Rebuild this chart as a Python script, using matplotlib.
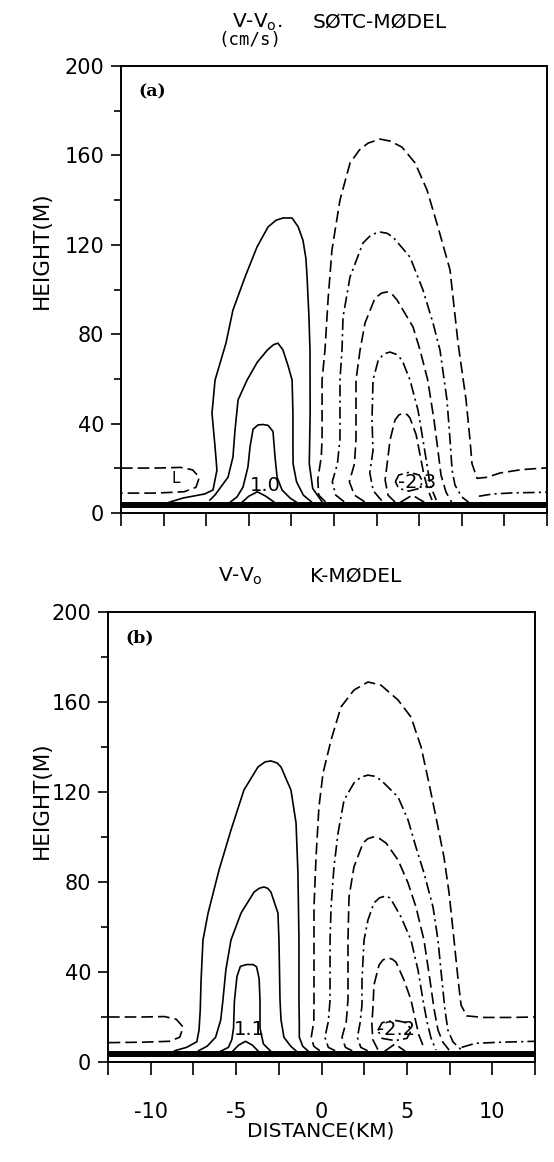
import numpy as np
import matplotlib
matplotlib.use('Agg')
import matplotlib.pyplot as plt
from matplotlib.ticker import FixedLocator

plt.rcParams['font.family'] = ['DejaVu Sans']
plt.rcParams['mathtext.default'] = 'regular'

# ---- panel (a): SOTC model, contours of V - Vo (x in km, z in m) ----
a_pos_outer_x = [-9.8, -8.86, -7.6, -7.1, -6.87, -6.98, -7.16, -6.98, -6.34, -5.93, -5.22, -4.52,
                 -3.87, -3.4, -2.99, -2.46, -2.1, -1.82, -1.65, -1.58, -1.47, -1.41, -1.40,
                 -1.45, -1.25, -0.7]
a_pos_outer_z = [4.5, 6.7, 8.5, 10.3, 19.2, 29.5, 44.7, 59.5, 76, 90.8, 105.6, 119,
                 128, 131, 132, 132, 128, 122, 114, 105.6, 87.7, 72.9, 45,
                 22, 11, 5]
a_pos_mid_x = [-7.28, -6.98, -6.22, -5.93, -5.81, -5.63, -5.1, -4.5, -3.9, -3.55, -3.29, -3.0,
               -2.7, -2.46, -2.41, -2.41, -2.4, -2.2, -1.8, -1.3]
a_pos_mid_z = [5.8, 8.1, 16, 25, 37, 50.6, 59.5, 67.5, 73, 75.3, 76, 73,
               66, 59.5, 44.7, 29.5, 22, 14, 8, 4.8]
a_pos_in_x = [-6.1, -5.69, -5.34, -5.05, -4.93, -4.75, -4.46, -4.17, -3.87, -3.58, -3.46, -3.34,
              -3.05, -2.58, -2.2]
a_pos_in_z = [4.8, 7.2, 11.6, 20.6, 29.5, 37.5, 39.4, 39.6, 39.2, 36.5, 25, 16,
              10.3, 6.7, 4.8]
a_pos_low_x = [-5.4, -5.0, -4.5, -4.0, -3.5]
a_pos_low_z = [4.8, 7.5, 9.5, 7.5, 4.8]

a_neg1_x = [-0.5, -0.9, -0.95, -0.75, -0.7, -0.7, -0.53, -0.35, -0.12, 0.35, 0.94, 1.5, 2.0, 2.7,
            3.3, 3.99, 4.76, 5.46, 6.10, 6.81, 7.28, 7.75, 7.98, 8.1, 8.4, 9.0, 9.74, 11.0, 12.5]
a_neg1_z = [5, 8, 15, 25, 32.7, 59.5, 72.9, 95.3, 117.7, 140, 156.6, 162.5, 165.5, 167.3,
            166.4, 163.7, 156.6, 144.5, 128, 108.7, 76, 50.6, 32.7, 22, 15.5, 16, 17.9, 19.4, 20.2]
a_neg2_x = [0.6, 0.1, -0.1, 0.2, 0.35, 0.35, 0.47, 0.53, 0.94, 1.70, 2.2, 2.70, 3.1, 3.46, 4.46,
            5.22, 5.81, 6.22, 6.63, 6.81, 6.93, 7.1, 7.5, 7.9]
a_neg2_z = [5, 8, 14, 22, 33, 59.5, 72.9, 87.7, 105.6, 120.8, 124.6, 125.7, 125.2, 123.5, 114.5,
            99.8, 85, 72.9, 50.6, 32.7, 19.2, 12.5, 7.2, 4.8]
a_neg3_x = [1.8, 1.2, 0.9, 1.2, 1.29, 1.29, 1.53, 1.82, 2.41, 2.8, 3.11, 3.4, 3.70, 4.64, 5.05,
            5.5, 5.87, 6.1, 6.28, 6.57, 6.9]
a_neg3_z = [5, 8, 14, 22, 33, 59.5, 72.9, 85, 96.2, 98.4, 98.9, 98.0, 95.3, 83.2, 72.9,
            59.5, 41.6, 28, 17, 9.4, 4.9]
a_neg4_x = [2.8, 2.3, 2.1, 2.29, 2.23, 2.29, 2.6, 2.95, 3.29, 3.65, 3.99, 4.46, 4.93, 5.22,
            5.46, 5.64, 6.0]
a_neg4_z = [5.5, 10, 18, 28, 41.6, 59.5, 68.5, 71.3, 72, 71.0, 68.5, 59.5, 46, 32.7,
            21.5, 12.5, 5.8]
a_neg5_x = [3.58, 3.17, 3.0, 3.11, 3.29, 3.58, 3.8, 4.05, 4.3, 4.46, 4.82, 5.05, 5.28, 5.52, 5.75]
a_neg5_z = [4.9, 8, 14.8, 21.5, 32.7, 41.6, 43.8, 44.7, 44.0, 42.5, 35, 26, 17, 10.3, 5.8]
a_neg6_x = [3.6, 3.8, 4.4, 5.0, 5.2, 5.0, 4.4, 3.8, 3.6]
a_neg6_z = [14, 17, 18.2, 17, 14, 11, 9.8, 11, 14]
a_neg_low_x = [3.9, 4.6, 5.3]
a_neg_low_z = [4.8, 8.0, 4.8]
a_left_x = [-12.5, -10.5, -9.0, -8.3, -7.9, -8.1, -8.8, -10.5, -12.5]
a_left_z = [20.1, 20.1, 20.4, 19.3, 16, 11.5, 9.5, 8.9, 8.9]
a_right_x = [8.5, 9.3, 10.5, 11.9, 12.5]
a_right_z = [7.5, 8.5, 9.0, 9.2, 9.3]

# ---- panel (b): K model ----
b_pos_outer_x = [-8.6, -7.9, -7.3, -7.17, -7.1, -7.05, -6.94, -6.64, -6.0, -5.30, -4.54, -3.72,
                 -3.3, -2.96, -2.6, -2.37, -1.79, -1.49, -1.38, -1.32, -1.32, -1.3, -1.3, -1.1, -0.8]
b_pos_outer_z = [5, 6.5, 9, 14.2, 23, 36.4, 54.2, 66.2, 85.3, 103.1, 120.9, 131.1,
                 133.4, 133.8, 132.9, 131.1, 120.9, 106.2, 84, 54.2, 27.6, 18, 11, 7, 5]
b_pos_mid_x = [-7.2, -6.7, -6.2, -5.9, -5.77, -5.6, -5.30, -4.71, -3.95, -3.65, -3.37, -3.15,
               -2.96, -2.55, -2.49, -2.43, -2.37, -2.2, -1.8, -1.5]
b_pos_mid_z = [5, 7, 11, 18.7, 27.6, 40.9, 54.2, 66.2, 75.5, 77.2, 77.8, 77.2,
               75.5, 66.2, 54.2, 27.6, 18.7, 11, 7, 5]
b_pos_in_x = [-5.9, -5.45, -5.25, -5.15, -5.1, -4.95, -4.75, -4.4, -4.0, -3.8, -3.65, -3.6,
              -3.6, -3.4, -3.0]
b_pos_in_z = [4.8, 6.5, 10, 15, 27, 38, 42.5, 43.3, 43.3, 42.3, 37, 27,
              15, 8, 5]
b_pos_low_x = [-5.2, -4.85, -4.45, -4.05, -3.7]
b_pos_low_z = [4.8, 7.5, 9.2, 7.5, 4.8]

b_neg1_x = [-0.1, -0.45, -0.6, -0.45, -0.44, -0.44, -0.44, -0.32, -0.15, 0.09, 0.56, 1.14, 1.90,
            2.72, 3.48, 4.48, 5.24, 5.83, 6.29, 6.70, 7.17, 7.47, 7.76, 8.0, 8.17, 8.5, 9.5, 11.0,
            12.5]
b_neg1_z = [5, 7, 11, 18, 27.6, 54.2, 68.9, 91.1, 113.3, 128.4, 143.1, 157.8, 165.3,
            168.9, 167.5, 160.9, 153.3, 140, 124, 108.9, 91.1, 75.1, 54.2, 36.4, 25.3, 20.5, 19.8,
            19.8, 20]
b_neg2_x = [0.8, 0.4, 0.2, 0.4, 0.5, 0.50, 0.56, 0.73, 0.97, 1.32, 1.90, 2.3, 2.72, 3.1, 3.48,
            4.48, 5.07, 5.53, 6.0, 6.53, 6.82, 7.05, 7.23, 7.4, 7.7, 8.2]
b_neg2_z = [5, 6.5, 11, 18, 27.6, 54.2, 68.9, 86.7, 101.8, 116.4, 124, 126.6, 127.5, 127.0, 125.3,
            117.8, 107.5, 95.5, 84, 68.9, 54.2, 36.4, 23.1, 14.2, 8.9, 5.3]
b_neg3_x = [1.8, 1.4, 1.2, 1.45, 1.55, 1.55, 1.61, 1.90, 2.43, 2.7, 3.02, 3.4, 3.78, 4.48, 5.07,
            5.53, 6.0, 6.35, 6.6, 6.82, 7.1, 7.47]
b_neg3_z = [5, 6.5, 11, 18, 27.6, 54.2, 73.3, 86.7, 97.3, 99.2, 100, 99.3, 97.3, 89.8, 79.5,
            68.9, 54.2, 36.4, 23.1, 14.2, 8.9, 5.3]
b_neg4_x = [2.7, 2.3, 2.1, 2.25, 2.37, 2.37, 2.49, 2.72, 3.07, 3.4, 3.78, 4.0, 4.19, 4.66, 5.24,
            5.65, 5.94, 6.18, 6.41, 6.7]
b_neg4_z = [5, 6.5, 11, 17, 25.3, 36.4, 54.2, 63.1, 70.7, 73.0, 73.8, 72.9, 70.7, 64.4, 54.2,
            40.9, 27.6, 17.8, 10.7, 5.3]
b_neg5_x = [3.3, 3.0, 2.95, 3.02, 3.07, 3.37, 3.6, 3.89, 4.15, 4.36, 4.83, 5.24, 5.47, 5.7, 6.0]
b_neg5_z = [5.5, 10, 17, 25.3, 34.2, 43.1, 45.4, 46.2, 45.7, 44.4, 36.4, 27.6, 19.6, 12, 6.2]
b_neg6_x = [3.3, 3.55, 4.3, 5.0, 5.25, 5.0, 4.3, 3.55, 3.3]
b_neg6_z = [14, 17.5, 18.5, 17.5, 14, 10.5, 9.5, 10.5, 14]
b_neg_low_x = [3.7, 4.3, 4.9]
b_neg_low_z = [4.8, 8.0, 4.8]
b_left_x = [-12.5, -10.5, -9.2, -8.5, -8.1, -8.3, -8.9, -10.5, -12.5]
b_left_z = [20, 20, 20.2, 19, 15.5, 11, 9.2, 8.8, 8.6]
b_right_x = [8.2, 9.0, 10.5, 12.5]
b_right_z = [6.5, 8.3, 8.8, 9.2]

x_ticks = np.arange(-12.5, 12.6, 2.5)
x_labels = ['', '-10', '', '-5', '', '0', '', '5', '', '10', '']
y_major = [0, 40, 80, 120, 160, 200]
y_minor = [20, 60, 100, 140, 180]

LONG = (0, (7, 3))
DASHDOT = (0, (7, 2.5, 1.3, 2.5))

fig = plt.figure(figsize=(5.54, 11.62), dpi=100)


def draw_panel(ax, solid, dashed, dotdash, labels, tag, show_x):
    for xs, zs in solid:
        ax.plot(xs, zs, color='black', lw=1.2, solid_joinstyle='round')
    for xs, zs in dashed:
        ax.plot(xs, zs, color='black', lw=1.2, linestyle=LONG)
    for xs, zs in dotdash:
        ax.plot(xs, zs, color='black', lw=1.2, linestyle=DASHDOT)
    # dense contours squeezed against the ground
    ax.fill_between([-12.5, 12.5], 2.2, 4.8, color='black', lw=0)
    for x, z, s, fs in labels:
        ax.text(x, z, s, fontsize=fs, ha='center', va='center')
    ax.text(0.04, 0.943, tag, transform=ax.transAxes, fontsize=12.5,
            fontweight='bold', family='DejaVu Serif', ha='left', va='center')

    ax.set_xlim(-12.5, 12.5)
    ax.set_ylim(0, 200)
    ax.xaxis.set_major_locator(FixedLocator(x_ticks))
    ax.yaxis.set_major_locator(FixedLocator(y_major))
    ax.yaxis.set_minor_locator(FixedLocator(y_minor))
    ax.set_yticklabels([str(v) for v in y_major])
    if show_x:
        ax.set_xticklabels(x_labels)
    else:
        ax.set_xticklabels([])
    ax.tick_params(axis='x', direction='out', length=9, width=1.2, labelsize=15, pad=20)
    ax.tick_params(axis='y', which='major', direction='out', length=7, width=1.2,
                   labelsize=15, pad=5)
    ax.tick_params(axis='y', which='minor', direction='out', length=5, width=1.2)
    for sp in ax.spines.values():
        sp.set_linewidth(1.4)


ax_a = fig.add_axes([121 / 554, 1 - 513 / 1162, 426 / 554, 447 / 1162])
draw_panel(
    ax_a,
    solid=[(a_pos_outer_x, a_pos_outer_z), (a_pos_mid_x, a_pos_mid_z),
           (a_pos_in_x, a_pos_in_z), (a_pos_low_x, a_pos_low_z)],
    dashed=[(a_neg1_x, a_neg1_z), (a_neg3_x, a_neg3_z), (a_neg5_x, a_neg5_z),
            (a_left_x, a_left_z), (a_neg_low_x, a_neg_low_z)],
    dotdash=[(a_neg2_x, a_neg2_z), (a_neg4_x, a_neg4_z), (a_neg6_x, a_neg6_z),
             (a_right_x, a_right_z)],
    labels=[(-4.05, 12.5, '1.0', 14), (4.85, 13.5, '-2.3', 14), (-9.3, 15.6, 'L', 11)],
    tag='(a)', show_x=False)

ax_b = fig.add_axes([108 / 554, 1 - 1062 / 1162, 427 / 554, 450 / 1162])
draw_panel(
    ax_b,
    solid=[(b_pos_outer_x, b_pos_outer_z), (b_pos_mid_x, b_pos_mid_z),
           (b_pos_in_x, b_pos_in_z), (b_pos_low_x, b_pos_low_z)],
    dashed=[(b_neg1_x, b_neg1_z), (b_neg3_x, b_neg3_z), (b_neg5_x, b_neg5_z),
            (b_left_x, b_left_z), (b_neg_low_x, b_neg_low_z)],
    dotdash=[(b_neg2_x, b_neg2_z), (b_neg4_x, b_neg4_z), (b_neg6_x, b_neg6_z),
             (b_right_x, b_right_z)],
    labels=[(-4.25, 14.5, '1.1', 14), (4.35, 14.5, '-2.2', 14)],
    tag='(b)', show_x=True)

# titles and axis labels
fig.text(232 / 554, 1 - 22 / 1162, 'V-V$_o$.', fontsize=14.5, ha='left', va='center')
fig.text(313 / 554, 1 - 22 / 1162, 'SØTC-MØDEL', fontsize=14.5, ha='left', va='center')
fig.text(250 / 554, 1 - 40 / 1162, '(cm/s)', fontsize=12.5, family='DejaVu Sans Mono',
         ha='center', va='center')
fig.text(218 / 554, 1 - 576 / 1162, 'V-V$_o$', fontsize=14.5, ha='left', va='center')
fig.text(310 / 554, 1 - 576 / 1162, 'K-MØDEL', fontsize=14.5, ha='left', va='center')
fig.text(42 / 554, 1 - 250 / 1162, 'HEIGHT(M)', fontsize=15.5, rotation=90,
         ha='center', va='center')
fig.text(42 / 554, 1 - 800 / 1162, 'HEIGHT(M)', fontsize=15.5, rotation=90,
         ha='center', va='center')
fig.text(321 / 554, 1 - 1131 / 1162, 'DISTANCE(KM)', fontsize=14.5, ha='center', va='center')

fig.savefig('out.png', dpi=100)
